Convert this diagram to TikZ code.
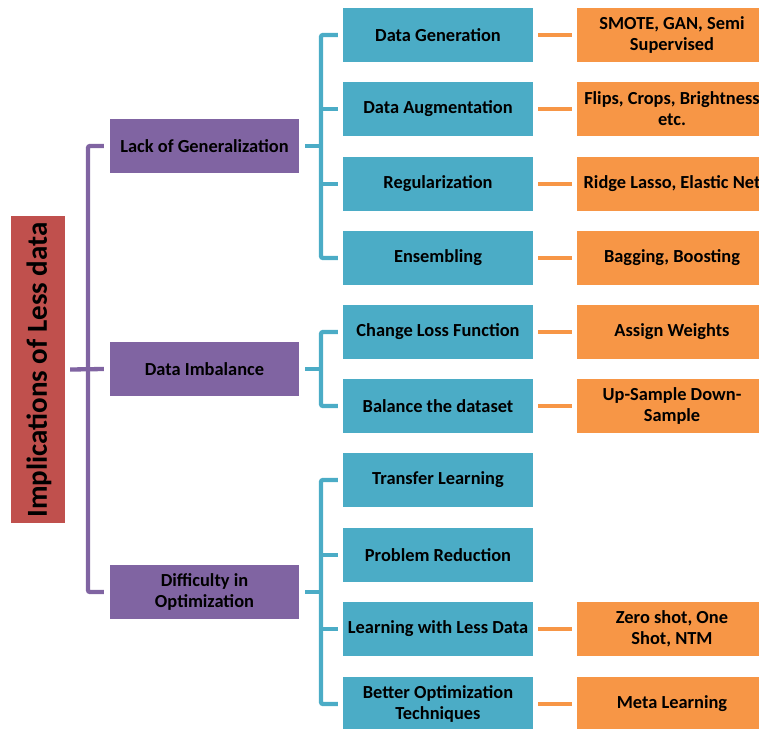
\documentclass[tikz,border=0pt]{standalone}
\usepackage{fontspec}
\setmainfont{Carlito}
\definecolor{rootred}{HTML}{C0504D}
\definecolor{lvlpurple}{HTML}{8064A2}
\definecolor{lvlteal}{HTML}{4BACC6}
\definecolor{lvlorange}{HTML}{F79646}
\begin{document}
\begin{tikzpicture}[x=1pt,y=-1pt,
  box/.style={draw=none, inner sep=0pt, align=center, text=black,
    font=\fontsize{18.4}{20.8}\selectfont\bfseries},
  rootbox/.style={box, fill=rootred, minimum width=54pt, minimum height=307pt},
  purplebox/.style={box, fill=lvlpurple, minimum width=189pt, minimum height=54pt},
  tealbox/.style={box, fill=lvlteal, minimum width=190pt, minimum height=54pt},
  orangebox/.style={box, fill=lvlorange, minimum width=190pt, minimum height=54pt},
  pline/.style={draw=lvlpurple, line width=4.3pt, rounded corners=2pt},
  tline/.style={draw=lvlteal, line width=4.3pt, rounded corners=2pt},
  oline/.style={draw=lvlorange, line width=4.3pt},
]
\useasboundingbox (0,0) rectangle (759,728);
\clip (0,0) rectangle (759,728);

% root
\node[rootbox] (root) at (38,369.5) {};
\node[rotate=90, text=black, font=\fontsize{29}{32}\selectfont\bfseries] (roottext) at (39,370) {Implications of Less data};

% first level
\node[purplebox] (lg) at (204.5,146) {Lack of Generalization};
\node[purplebox] (di) at (204.5,369) {Data Imbalance};
\node[purplebox] (dio) at (204.5,592) {Difficulty in\\Optimization};

% second level
\node[tealbox] (dg) at (438,35) {Data Generation};
\node[tealbox] (da) at (438,109) {Data Augmentation};
\node[tealbox] (rg) at (438,184) {Regularization};
\node[tealbox] (en) at (438,258) {Ensembling};
\node[tealbox] (cl) at (438,332) {Change Loss Function};
\node[tealbox] (bd) at (438,406) {Balance the dataset};
\node[tealbox] (tl) at (438,480) {Transfer Learning};
\node[tealbox] (pr) at (438,555) {Problem Reduction};
\node[tealbox] (ll) at (438,629) {Learning with Less Data};
\node[tealbox] (bo) at (438,704) {Better Optimization\\Techniques};

% third level
\node[orangebox] (dgo) at (672,35) {SMOTE, GAN, Semi\\Supervised};
\node[orangebox] (dao) at (672,109) {Flips, Crops, Brightness\\etc.};
\node[orangebox] (rgo) at (672,184) {Ridge Lasso, Elastic Net};
\node[orangebox] (eno) at (672,258) {Bagging, Boosting};
\node[orangebox] (clo) at (672,332) {Assign Weights};
\node[orangebox] (bdo) at (672,406) {Up-Sample Down-\\Sample};
\node[orangebox] (llo) at (672,629) {Zero shot, One\\Shot, NTM};
\node[orangebox] (boo) at (672,704) {Meta Learning};

% bus positions
\coordinate (pbus) at (88,0);
\coordinate (tbus) at (321,0);

% root -> first level
\draw[pline] ([xshift=-6]lg.west) -- (pbus |- lg.west) -- (pbus |- dio.west) -- ([xshift=-6]dio.west);
\draw[pline] ([xshift=5]root.east) -- ([xshift=-6]di.west);

% first -> second level
\foreach \p/\a/\b in {lg/dg/en, di/cl/bd, dio/tl/bo}{
  \draw[tline] ([xshift=-5]\a.west) -- (tbus |- \a.west) -- (tbus |- \b.west) -- ([xshift=-5]\b.west);
  \draw[tline] ([xshift=6]\p.east) -- (tbus |- \p.east);
}
\foreach \c in {da, rg, pr, ll}{
  \draw[tline] ([xshift=-5]\c.west) -- (tbus |- \c.west);
}

% second -> third level
\foreach \a/\b in {dg/dgo, da/dao, rg/rgo, en/eno, cl/clo, bd/bdo, ll/llo, bo/boo}{
  \draw[oline] ([xshift=5]\a.east) -- ([xshift=-5]\b.west);
}
\end{tikzpicture}
\end{document}
